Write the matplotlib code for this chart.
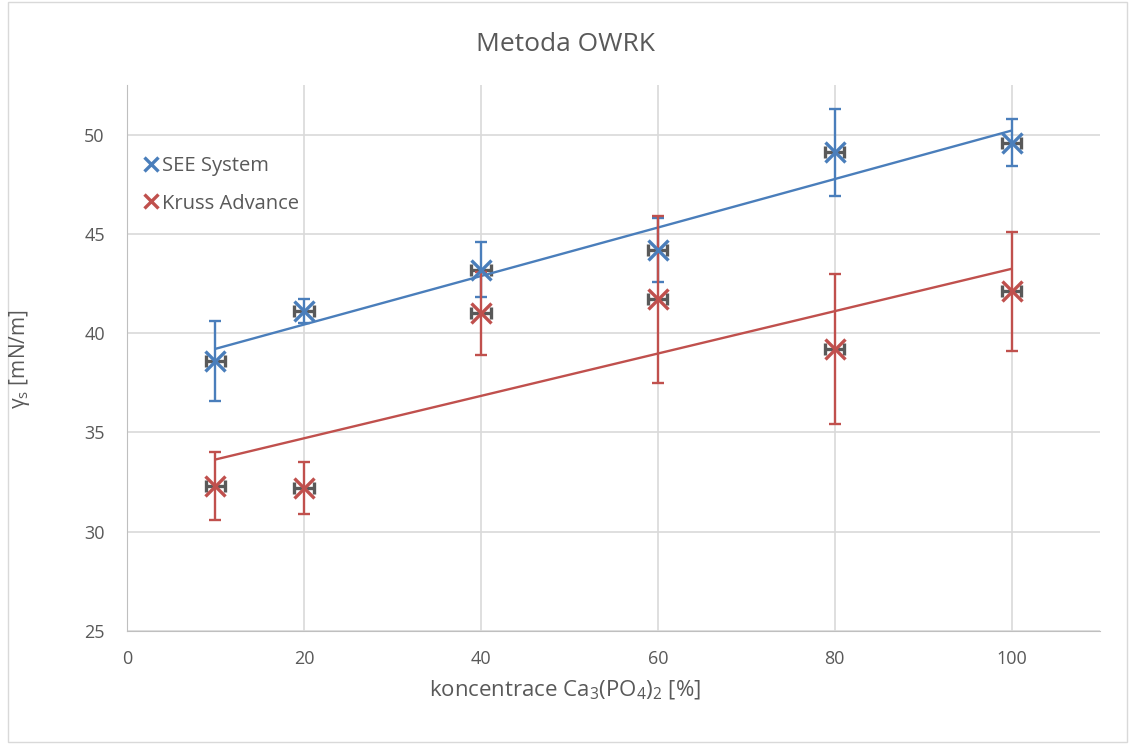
import matplotlib.pyplot as plt
import numpy as np
from matplotlib.patches import Rectangle

plt.rcParams['font.family'] = ['Open Sans', 'DejaVu Sans']
plt.rcParams['mathtext.default'] = 'regular'

# data
konc = [10, 20, 40, 60, 80, 100]
see = [38.6, 41.1, 43.2, 44.2, 49.1, 49.6]
see_err = [2.0, 0.6, 1.4, 1.6, 2.2, 1.2]
kruss = [32.3, 32.2, 41.0, 41.7, 39.2, 42.1]
kruss_err = [1.7, 1.3, 2.1, 4.2, 3.8, 3.0]
x_err = 1.1

blue = '#4a7ebb'
red = '#c0504d'
grey_txt = '#595959'

fig = plt.figure(figsize=(11.3, 7.44), dpi=100)
ax = fig.add_axes([0.1124, 0.1519, 0.9735 - 0.1124, 0.8858 - 0.1519])

# chart border
fig.patches.append(Rectangle((0.007, 0.003), 0.99, 0.994, transform=fig.transFigure,
                             fill=False, edgecolor='#d9d9d9', lw=1))

for y, err, col, name in [(see, see_err, blue, 'SEE System'),
                          (kruss, kruss_err, red, 'Kruss Advance')]:
    # horizontal error bars (dark grey)
    ax.errorbar(konc, y, xerr=x_err, fmt='none', ecolor='#595959', elinewidth=2.4,
                capsize=4.5, capthick=2.4, zorder=3)
    # vertical error bars
    ax.errorbar(konc, y, yerr=err, fmt='none', ecolor=col, elinewidth=1.7,
                capsize=4.5, capthick=1.7, zorder=4)
    ax.plot(konc, y, 'x', color=col, ms=15, mew=2.4, zorder=5, label=name)
    # linear trend
    k, q = np.polyfit(konc, y, 1)
    xs = np.array([konc[0], konc[-1]])
    ax.plot(xs, k * xs + q, color=col, lw=1.7, zorder=4)

ax.set_xlim(0, 110)
ax.set_ylim(25, 52.5)
ax.set_xticks([0, 20, 40, 60, 80, 100])
ax.set_yticks([25, 30, 35, 40, 45, 50])
ax.grid(True, color='#d9d9d9', lw=1.2)
ax.set_axisbelow(True)
for s in ['top', 'right']:
    ax.spines[s].set_visible(False)
for s in ['left', 'bottom']:
    ax.spines[s].set_color('#bfbfbf')
ax.tick_params(length=0, labelsize=13, colors=grey_txt)
ax.tick_params(axis='y', pad=16)
ax.tick_params(axis='x', pad=14)

fig.text(0.5, 0.94, 'Metoda OWRK', fontsize=19, color=grey_txt, ha='center', va='center')
fig.text(0.5, 0.072, 'koncentrace Ca$_3$(PO$_4$)$_2$ [%]', fontsize=16, color=grey_txt,
         ha='center', va='center')
fig.text(0.017, 0.518, 'γ$_s$ [mN/m]', fontsize=15, color=grey_txt, ha='center',
         va='center', rotation=90)

leg = ax.legend(loc='upper left', bbox_to_anchor=(0.0, 0.895), frameon=False,
                fontsize=14.5, handletextpad=0.05, handlelength=1.0, labelspacing=0.85,
                markerscale=0.65, borderaxespad=0.3)
for t in leg.get_texts():
    t.set_color(grey_txt)

fig.savefig('out.png', dpi=100)
